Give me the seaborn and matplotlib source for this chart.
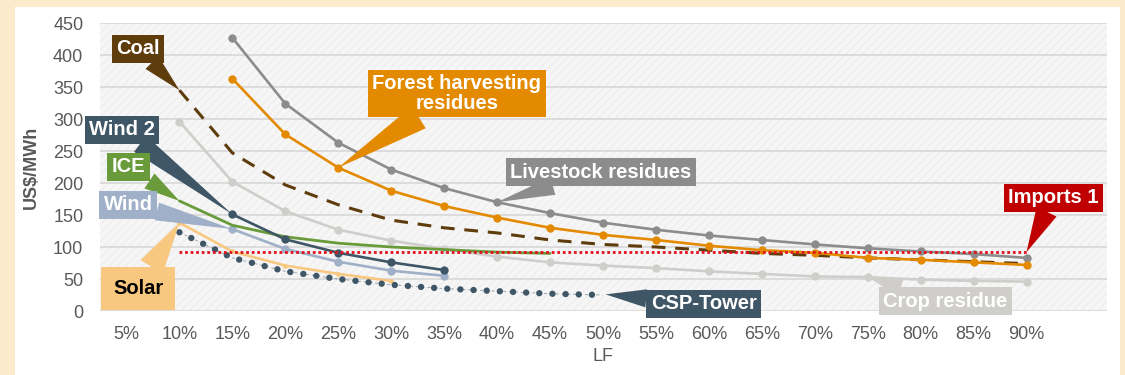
import numpy as np
import pandas as pd
import matplotlib
matplotlib.use("Agg")
import matplotlib.pyplot as plt
from matplotlib.patches import Rectangle
import seaborn as sns

N = None
lf_labels = ["5%", "10%", "15%", "20%", "25%", "30%", "35%", "40%", "45%",
             "50%", "55%", "60%", "65%", "70%", "75%", "80%", "85%", "90%"]

livestock = [N, N, 427, 324, 263, 221, 192, 170, 153, 138, 127, 118, 111, 104, 98, 93, 89, 83]
forest    = [N, N, 363, 276, 224, 188, 164, 146, 130, 119, 111, 102, 95, 91, 83, 80, 76, 72]
coal      = [N, 345, 247, 197, 166, 142, 130, 122, 111, 104, 100, 95, 90, 87, 83, 80, 77, 74]
crop      = [N, 296, 202, 156, 127, 110, 97, 85, 76, 71, 67, 62, 58, 54, 53, 49, 47, 46]
ice       = [N, 172, 134, 116, 106, 100, 96, 92, 90, N, N, N, N, N, N, N, N, N]
wind2     = [N, N, 151, 112, 91, 76, 64, N, N, N, N, N, N, N, N, N, N, N]
wind      = [N, N, 128, 97, 77, 63, 55, N, N, N, N, N, N, N, N, N, N, N]
solar     = [N, 138, 93, 71, 58, 47, N, N, N, N, N, N, N, N, N, N, N, N]
csp_tower = [N, 123, 83, 62, 50, 41, 35, 31, 27, 25, N, N, N, N, N, N, N, N]
imports1  = [N, 92, 92, 92, 92, 92, 92, 92, 92, 92, 92, 92, 92, 92, 92, 92, 92, 92]

def arr(v):
    return np.array([np.nan if x is None else x for x in v], dtype=float)

pos = np.arange(len(lf_labels))

sns.set_theme(style="white")
plt.rcParams['font.family'] = ['Liberation Sans', 'DejaVu Sans']

W, H = 1125, 375
fig = plt.figure(figsize=(W / 100, H / 100), dpi=100)
fig.patch.set_facecolor("#FDE9CB")
fig.patches.append(Rectangle((15 / W, 0), (1120 - 15) / W, (H - 7) / H,
                             transform=fig.transFigure, facecolor="white",
                             edgecolor="none", zorder=-10))

ax = fig.add_axes([100 / W, (H - 311) / H, 1007 / W, 288 / H])
ax.set_zorder(1)
ax.set_facecolor("#F6F6F6")
ax.patch.set_hatch("////")
ax.patch.set_edgecolor("#EFEFEF")
ax.patch.set_linewidth(0)
for s in ax.spines.values():
    s.set_visible(False)

ax.set_axisbelow(True)
ax.yaxis.grid(True, color="#DCDCDC", linewidth=1.4)
ax.xaxis.grid(False)

def draw(vals, color, lw=1.9, marker="o", ms=6, ls="-", z=3, **kw):
    y = arr(vals)
    m = ~np.isnan(y)
    sns.lineplot(x=pos[m], y=y[m], ax=ax, color=color, linewidth=lw,
                 marker=marker, markersize=ms, markeredgewidth=0,
                 linestyle=ls, zorder=z, legend=False, **kw)

C_LIVE = "#8C8C8C"
C_FOREST = "#E48A00"
C_COAL = "#5E3C0B"
C_CROP = "#CFCECA"
C_ICE = "#6A9B3B"
C_WIND2 = "#3F5666"
C_WIND = "#9FB0C8"
C_SOLAR = "#F8C880"
C_RED = "#E3121E"

draw(crop, C_CROP, z=2)
draw(coal, C_COAL, lw=2.2, marker=None, ls=(0, (4.5, 3.2)), z=3)
draw(livestock, C_LIVE, z=3)
draw(forest, C_FOREST, z=4)
draw(wind, C_WIND, z=3)
draw(ice, C_ICE, lw=2.0, marker=None, z=4)
draw(wind2, C_WIND2, z=5)
draw(solar, C_SOLAR, ms=3.5, z=3)
# CSP tower: thin connecting line + round dots
y_csp = arr(csp_tower)
mc = ~np.isnan(y_csp)
sns.lineplot(x=pos[mc], y=y_csp[mc], ax=ax, color=C_WIND2, linewidth=0.7,
             linestyle=(0, (3, 3)), alpha=0.5, zorder=5, legend=False)
sns.lineplot(x=pos[mc], y=y_csp[mc], ax=ax, color=C_WIND2, linewidth=4.6,
             linestyle=(0, (0.01, 2.05)), dash_capstyle="round",
             zorder=5, legend=False)
draw(imports1, C_RED, lw=2.0, marker=None, ls=(0, (1, 1.0)), z=6)

ax.set_xlim(-0.5, 18.52)
ax.set_ylim(0, 450)
ax.set_yticks(np.arange(0, 451, 50))
ax.set_xticks(pos)
ax.set_xticklabels(lf_labels)
ax.tick_params(axis="both", length=0, labelsize=13, labelcolor="#595959")
ax.tick_params(axis="y", pad=12)
ax.tick_params(axis="x", pad=11)

ax.set_ylabel("US$/MWh", fontsize=13, fontweight="bold", color="#595959")
ax.yaxis.set_label_coords(-0.06, 0.5)
ax.set_xlabel("LF", fontsize=13, color="#595959")
ax.xaxis.set_label_coords(0.4995, -0.13)

def callout(text, xy, xytext, fc, tc="white", tw=0.9, fs=14.5, pad=0.22):
    ax.annotate(text, xy=xy, xytext=xytext, xycoords="data", textcoords="data",
                ha="center", va="center", fontsize=fs, fontweight="bold",
                color=tc, annotation_clip=False, zorder=10,
                linespacing=1.05,
                bbox=dict(boxstyle=f"square,pad={pad}", fc=fc, ec="none"),
                arrowprops=dict(arrowstyle=f"wedge,tail_width={tw},shrink_factor=0.5",
                                fc=fc, ec="none", shrinkA=0, shrinkB=0))

callout("Coal", (1, 345), (0.22, 410), C_COAL)
callout("Forest harvesting\nresidues", (4, 224), (6.24, 340), C_FOREST, tw=1.3)
callout("Livestock residues", (7, 170), (8.96, 217), C_LIVE)
callout("Wind 2", (2, 151), (-0.085, 283), C_WIND2, tw=1.0)
callout("ICE", (1, 172), (0.04, 225), C_ICE)
callout("Wind", (2, 128), (0.03, 166), C_WIND)
callout("Solar", (1, 138), (0.22, 35), C_SOLAR, tc="black", pad=0.6, tw=1.3)
callout("CSP-Tower", (9.05, 26), (10.9, 11), C_WIND2)
callout("Imports 1", (17, 92), (17.51, 177), "#C00000", tw=1.1)
callout("Crop residue", (14, 53), (15.47, 15), C_CROP)

fig.savefig("out.png", dpi=100, facecolor=fig.get_facecolor())
